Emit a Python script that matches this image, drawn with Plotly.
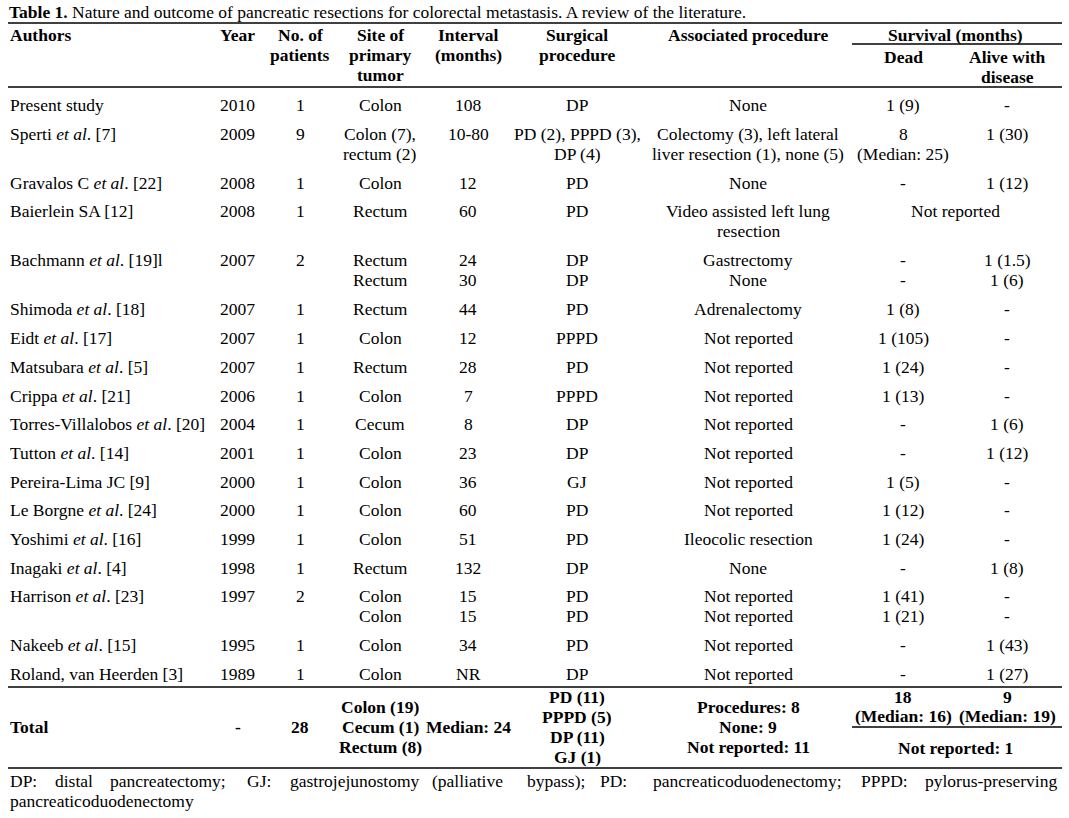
import plotly.graph_objects as go

# ---------------- data ----------------
title_bold = "Table 1."
title_rest = " Nature and outcome of pancreatic resections for colorectal metastasis. A review of the literature."

header_authors = "Authors"
header_year = "Year"
header_n = ["No. of", "patients"]
header_site = ["Site of", "primary", "tumor"]
header_interval = ["Interval", "(months)"]
header_surgical = ["Surgical", "procedure"]
header_assoc = "Associated procedure"
header_survival = "Survival (months)"
header_dead = "Dead"
header_alive = ["Alive with", "disease"]

authors = ["Present study", "Sperti <i>et al</i>. [7]", "Gravalos C <i>et al</i>. [22]",
           "Baierlein SA [12]", "Bachmann <i>et al</i>. [19]l", "Shimoda <i>et al</i>. [18]",
           "Eidt <i>et al</i>. [17]", "Matsubara <i>et al</i>. [5]", "Crippa <i>et al</i>. [21]",
           "Torres-Villalobos <i>et al</i>. [20]", "Tutton <i>et al</i>. [14]", "Pereira-Lima JC [9]",
           "Le Borgne <i>et al</i>. [24]", "Yoshimi <i>et al</i>. [16]", "Inagaki <i>et al</i>. [4]",
           "Harrison <i>et al</i>. [23]", "Nakeeb <i>et al</i>. [15]", "Roland, van Heerden [3]"]
years = ["2010", "2009", "2008", "2008", "2007", "2007", "2007", "2007", "2006",
         "2004", "2001", "2000", "2000", "1999", "1998", "1997", "1995", "1989"]
n_patients = ["1", "9", "1", "1", "2", "1", "1", "1", "1", "1", "1", "1", "1", "1", "1", "2", "1", "1"]
sites = [["Colon"], ["Colon (7),", "rectum (2)"], ["Colon"], ["Rectum"], ["Rectum", "Rectum"],
         ["Rectum"], ["Colon"], ["Rectum"], ["Colon"], ["Cecum"], ["Colon"], ["Colon"], ["Colon"],
         ["Colon"], ["Rectum"], ["Colon", "Colon"], ["Colon"], ["Colon"]]
intervals = [["108"], ["10-80"], ["12"], ["60"], ["24", "30"], ["44"], ["12"], ["28"], ["7"], ["8"],
             ["23"], ["36"], ["60"], ["51"], ["132"], ["15", "15"], ["34"], ["NR"]]
surgical = [["DP"], ["PD (2), PPPD (3),", "DP (4)"], ["PD"], ["PD"], ["DP", "DP"], ["PD"], ["PPPD"],
            ["PD"], ["PPPD"], ["DP"], ["DP"], ["GJ"], ["PD"], ["PD"], ["DP"], ["PD", "PD"], ["PD"], ["DP"]]
associated = [["None"], ["Colectomy (3), left lateral", "liver resection (1), none (5)"], ["None"],
              ["Video assisted left lung", "resection"], ["Gastrectomy", "None"], ["Adrenalectomy"],
              ["Not reported"], ["Not reported"], ["Not reported"], ["Not reported"], ["Not reported"],
              ["Not reported"], ["Not reported"], ["Ileocolic resection"], ["None"],
              ["Not reported", "Not reported"], ["Not reported"], ["Not reported"]]
dead = [["1 (9)"], ["8", "(Median: 25)"], ["-"], [], ["-", "-"], ["1 (8)"], ["1 (105)"], ["1 (24)"],
        ["1 (13)"], ["-"], ["-"], ["1 (5)"], ["1 (12)"], ["1 (24)"], ["-"], ["1 (41)", "1 (21)"],
        ["-"], ["-"]]
alive = [["-"], ["1 (30)"], ["1 (12)"], [], ["1 (1.5)", "1 (6)"], ["-"], ["-"], ["-"], ["-"],
         ["1 (6)"], ["1 (12)"], ["-"], ["-"], ["-"], ["1 (8)"], ["-", "-"], ["1 (43)"], ["1 (27)"]]
survival_merged = ["", "", "", "Not reported", "", "", "", "", "", "", "", "", "", "", "", "", "", ""]

total_label = "Total"
total_year = "-"
total_n = "28"
total_site = ["Colon (19)", "Cecum (1)", "Rectum (8)"]
total_interval = "Median: 24"
total_surgical = ["PD (11)", "PPPD (5)", "DP (11)", "GJ (1)"]
total_assoc = ["Procedures: 8", "None: 9", "Not reported: 11"]
total_dead = ["18", "(Median: 16)"]
total_alive = ["9", "(Median: 19)"]
total_not_reported = "Not reported: 1"

footnote_words = ["DP:", "distal", "pancreatectomy;", "GJ:", "gastrojejunostomy", "(palliative",
                  "bypass);", "PD:", "pancreaticoduodenectomy;", "PPPD:", "pylorus-preserving"]
footnote_line2 = "pancreaticoduodenectomy"

# ---------------- layout helpers ----------------
W, H = 1069, 818
FONT = "Liberation Serif, Times New Roman, serif"
FS = 17.5
annotations = []
shapes = []


def txt(x, y, s, anchor="center", bold=False, size=FS):
    if bold:
        s = "<b>" + s + "</b>"
    if anchor == "left":
        x -= 2
    elif anchor == "right":
        x += 2
    annotations.append(dict(x=x, y=y, xref="x", yref="y", text=s, showarrow=False,
                            xanchor=anchor, yanchor="middle",
                            font=dict(family=FONT, size=size, color="black")))


def hline(y, x0=8, x1=1062, w=1.5):
    shapes.append(dict(type="line", xref="x", yref="y", x0=x0, x1=x1, y0=y, y1=y,
                       line=dict(color="black", width=w)))


# column centres
X_AUTH = 10
X_YEAR = 237
X_N = 300
X_SITE = 380
X_INT = 468
X_SURG = 577
X_ASSOC = 748
X_DEAD = 903
X_ALIVE = 1007
X_SURV = 955
LINE = 20

# title
txt(9, 12, "<b>" + title_bold + "</b>" + title_rest, anchor="left")
hline(23)

# header
txt(X_AUTH, 35, header_authors, anchor="left", bold=True)
txt(X_YEAR, 35, header_year, bold=True)
for i, s in enumerate(header_n):
    txt(X_N, 35 + i * LINE, s, bold=True)
for i, s in enumerate(header_site):
    txt(X_SITE, 35 + i * LINE, s, bold=True)
for i, s in enumerate(header_interval):
    txt(X_INT, 35 + i * LINE, s, bold=True)
for i, s in enumerate(header_surgical):
    txt(X_SURG, 35 + i * LINE, s, bold=True)
txt(X_ASSOC, 35, header_assoc, bold=True)
txt(X_SURV, 35, header_survival, bold=True)
hline(44, x0=852)
txt(X_DEAD, 57, header_dead, bold=True)
for i, s in enumerate(header_alive):
    txt(X_ALIVE, 57 + i * LINE, s, bold=True)
hline(87)

# body
y = 105
PITCH = 28.7
EXTRA = 20.3
for r in range(len(authors)):
    txt(X_AUTH, y, authors[r], anchor="left")
    txt(X_YEAR, y, years[r])
    txt(X_N, y, n_patients[r])
    for col, xc in ((sites, X_SITE), (intervals, X_INT), (surgical, X_SURG),
                    (associated, X_ASSOC), (dead, X_DEAD), (alive, X_ALIVE)):
        for i, s in enumerate(col[r]):
            txt(xc, y + i * LINE, s)
    if survival_merged[r]:
        txt(X_SURV, y, survival_merged[r])
    nlines = max(len(sites[r]), len(intervals[r]), len(surgical[r]), len(associated[r]),
                 len(dead[r]), len(alive[r]))
    y += PITCH + EXTRA * (nlines - 1)

hline(687)

# total row
txt(X_AUTH, 727, total_label, anchor="left", bold=True)
txt(X_YEAR + 1, 727, total_year, bold=True)
txt(X_N, 727, total_n, bold=True)
for i, s in enumerate(total_site):
    txt(X_SITE, 707 + i * LINE, s, bold=True)
txt(X_INT, 727, total_interval, bold=True)
for i, s in enumerate(total_surgical):
    txt(X_SURG, 697 + i * LINE, s, bold=True)
for i, s in enumerate(total_assoc):
    txt(X_ASSOC, 707 + i * LINE, s, bold=True)
for i, s in enumerate(total_dead):
    txt(X_DEAD, 697 + i * 19, s, bold=True)
for i, s in enumerate(total_alive):
    txt(X_ALIVE, 697 + i * 19, s, bold=True)
hline(727, x0=852)
txt(X_SURV, 748, total_not_reported, bold=True)
hline(768)

# footnote (justified line)
foot_x = [10, 55, 110, 247, 290, 432, 527, 600, 653, 861]
for wd, xx in zip(footnote_words[:-1], foot_x):
    txt(xx, 781, wd, anchor="left")
txt(1057, 781, footnote_words[-1], anchor="right")
txt(10, 801, footnote_line2, anchor="left")

fig = go.Figure()
fig.update_layout(
    width=W, height=H,
    margin=dict(l=0, r=0, t=0, b=0),
    paper_bgcolor="white", plot_bgcolor="white",
    xaxis=dict(range=[0, W], visible=False, fixedrange=True),
    yaxis=dict(range=[H, 0], visible=False, fixedrange=True),
    annotations=annotations, shapes=shapes,
    showlegend=False,
)
fig.write_html(
    "out.html",
    config={"displayModeBar": False},
    post_script="document.body.style.margin='0';document.body.style.overflow='hidden';",
)
